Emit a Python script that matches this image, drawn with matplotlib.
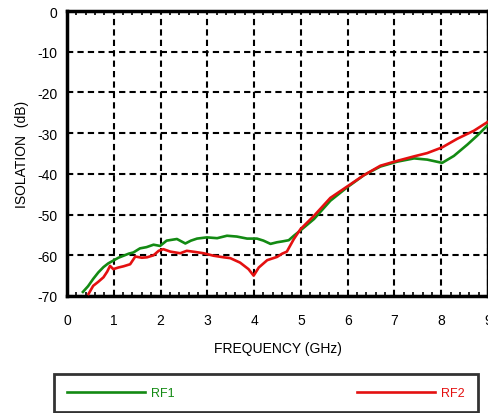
import numpy as np
import matplotlib
matplotlib.use("Agg")
import matplotlib.pyplot as plt
from matplotlib.ticker import MultipleLocator

# data (GHz, dB)
rf1_freq = [0.34, 0.45, 0.56, 0.67, 0.78, 0.88, 0.99, 1.10, 1.21, 1.32, 1.42, 1.56, 1.70,
            1.85, 1.99, 2.13, 2.35, 2.53, 2.65, 2.78, 2.99, 3.21, 3.42, 3.63, 3.85, 4.06,
            4.20, 4.35, 4.49, 4.60, 4.74, 4.85, 4.99, 5.28, 5.63, 5.99, 6.35, 6.70, 7.06,
            7.42, 7.70, 8.02, 8.27, 8.56, 8.77, 9.00]
rf1_db = [-69.0, -67.6, -65.8, -64.2, -62.9, -62.0, -61.3, -60.6, -60.1, -59.6, -59.3, -58.3, -58.0,
          -57.4, -57.7, -56.4, -56.0, -57.1, -56.4, -55.9, -55.6, -55.8, -55.2, -55.4, -55.9, -55.9,
          -56.4, -57.2, -56.8, -56.6, -56.3, -55.2, -53.9, -51.1, -46.6, -43.3, -40.3, -38.2, -37.0,
          -36.2, -36.5, -37.3, -35.6, -32.8, -30.6, -28.0]

rf2_freq = [0.46, 0.56, 0.67, 0.78, 0.86, 0.92, 0.99, 1.10, 1.21, 1.35, 1.46, 1.60, 1.71,
            1.85, 1.96, 2.06, 2.21, 2.42, 2.56, 2.75, 2.92, 3.13, 3.35, 3.49, 3.70, 3.88,
            3.99, 4.10, 4.28, 4.49, 4.60, 4.70, 4.85, 4.99, 5.28, 5.63, 5.99, 6.35, 6.70,
            7.06, 7.42, 7.70, 8.02, 8.34, 8.70, 9.00]
rf2_db = [-69.5, -67.5, -66.5, -65.4, -64.0, -62.6, -63.4, -63.0, -62.7, -62.2, -60.3, -60.6, -60.5,
          -60.0, -58.9, -58.5, -59.1, -59.5, -58.9, -59.2, -59.5, -60.1, -60.5, -60.7, -61.8, -63.4,
          -65.0, -63.0, -61.2, -60.4, -59.6, -59.1, -56.0, -53.6, -50.3, -45.9, -43.1, -40.3, -38.0,
          -36.8, -35.7, -34.9, -33.5, -31.4, -29.4, -27.2]

x_ticks = list(range(0, 10))
y_ticks = list(range(-70, 1, 10))

green = "#138a13"
red = "#e41010"

plt.rcParams['font.family'] = ['Liberation Sans', 'DejaVu Sans']
plt.rcParams['axes.unicode_minus'] = False

fig = plt.figure(figsize=(4.88, 4.14), dpi=100)
ax = fig.add_axes([67 / 488, 1 - 297 / 414, 421 / 488, 285 / 414])

l1, = ax.plot(rf1_freq, rf1_db, color=green, lw=1.9, label="RF1", zorder=3)
l2, = ax.plot(rf2_freq, rf2_db, color=red, lw=1.9, label="RF2", zorder=4)

ax.set_xlim(0, 9)
ax.set_ylim(-70, 0)
ax.set_xticks(x_ticks)
ax.set_yticks(y_ticks)
ax.xaxis.set_minor_locator(MultipleLocator(0.2))
ax.tick_params(which='major', length=0, labelsize=10, pad=7)
ax.tick_params(axis='x', which='major', pad=12)
ax.tick_params(axis='x', which='minor', direction='in', length=3, width=1.2, top=True, bottom=True)
ax.grid(True, which='major', color='black', linestyle=(0, (3, 2)), linewidth=1.5)
for s in ax.spines.values():
    s.set_linewidth(2.5)

ax.set_xlabel("FREQUENCY (GHz)", fontsize=10, labelpad=10)
ax.set_ylabel("ISOLATION  (dB)", fontsize=10, labelpad=6)

leg = fig.legend(handles=[l1, l2], loc='lower left', ncol=2, mode='expand',
                 bbox_to_anchor=(54 / 488, 1 / 414, 424 / 488, 39 / 414),
                 fancybox=False, edgecolor='black', handlelength=6.2,
                 handletextpad=0.5, borderpad=1.05,
                 fontsize=9, labelcolor='linecolor', borderaxespad=0)
leg.get_frame().set_linewidth(2)

fig.savefig("out.png", dpi=100)
